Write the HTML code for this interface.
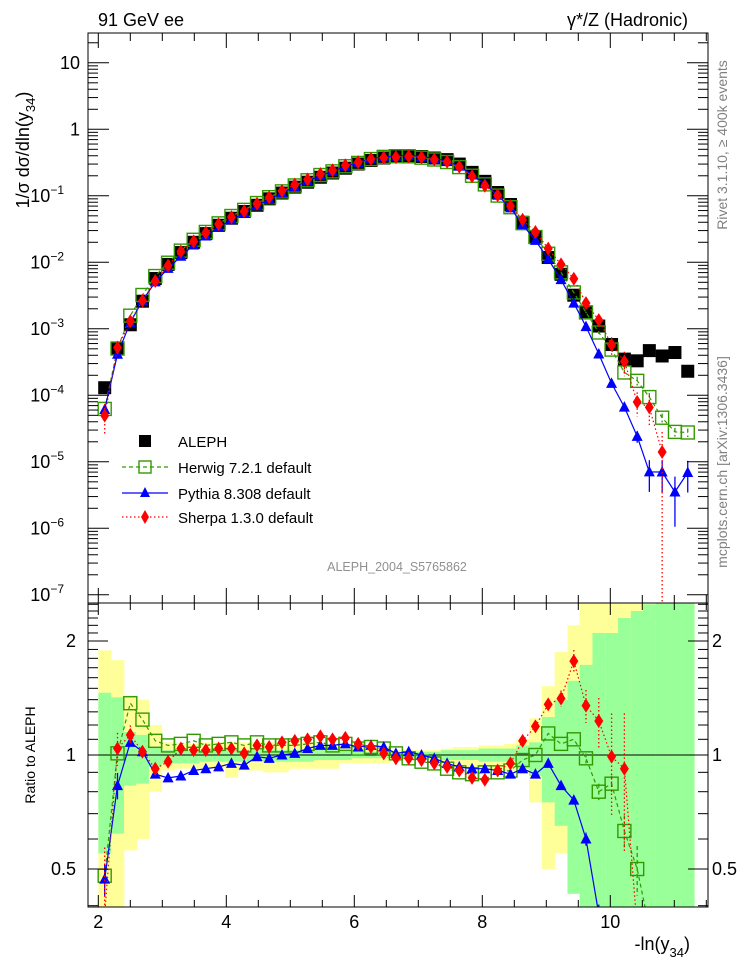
<!DOCTYPE html>
<html><head><meta charset="utf-8"><style>
html,body{margin:0;padding:0;background:#fff;width:746px;height:972px;overflow:hidden;}
svg{display:block;font-family:"Liberation Sans",Arial,sans-serif;}
</style></head><body>
<svg id="chart" width="746" height="972" viewBox="0 0 746 972" xmlns="http://www.w3.org/2000/svg">
<defs>
<clipPath id="clipMain"><rect x="88" y="33" width="620" height="570"/></clipPath>
<clipPath id="clipRatio"><rect x="88" y="603" width="620" height="304"/></clipPath>
</defs>
<g id="ratioBands" clip-path="url(#clipRatio)"></g>
<g id="mainMarks" clip-path="url(#clipMain)"></g>
<g id="ratioMarks" clip-path="url(#clipRatio)"></g>
<g id="axes"></g>

<text x="98" y="26" font-size="18">91 GeV ee</text>
<text x="688" y="26" font-size="18" text-anchor="end">γ*/Z (Hadronic)</text>
<text transform="translate(727,145) rotate(-90)" font-size="14" fill="#808080" text-anchor="middle">Rivet 3.1.10, ≥ 400k events</text>
<text transform="translate(727,462) rotate(-90)" font-size="14" fill="#808080" text-anchor="middle">mcplots.cern.ch [arXiv:1306.3436]</text>
<text x="397" y="571" font-size="12.5" fill="#909090" text-anchor="middle">ALEPH_2004_S5765862</text>
<text transform="translate(29,150) rotate(-90)" font-size="18" text-anchor="middle">1/σ  dσ/dln(y<tspan font-size="13" dy="6">34</tspan><tspan dy="-6">)</tspan></text>
<text transform="translate(35,755) rotate(-90)" font-size="14" text-anchor="middle">Ratio to ALEPH</text>
<text x="690" y="950" font-size="18" text-anchor="end">-ln(y<tspan font-size="13" dy="7">34</tspan><tspan dy="-7">)</tspan></text>

<g>
  <g>
    <rect x="139" y="435" width="12" height="12" fill="#000"/>
    <text x="178" y="447" font-size="15">ALEPH</text>
  </g>
  <g>
    <line x1="122" y1="467" x2="168" y2="467" stroke="#339900" stroke-width="1.3" stroke-dasharray="4,3"/>
    <rect x="139" y="461" width="12" height="12" fill="none" stroke="#339900" stroke-width="1.4"/>
    <text x="178" y="473" font-size="15">Herwig 7.2.1 default</text>
  </g>
  <g>
    <line x1="122" y1="493" x2="168" y2="493" stroke="#0000ff" stroke-width="1.3"/>
    <polygon points="145,487 150,497 140,497" fill="#0000ff"/>
    <text x="178" y="499" font-size="15">Pythia 8.308 default</text>
  </g>
  <g>
    <line x1="122" y1="517" x2="168" y2="517" stroke="#ff0000" stroke-width="1.3" stroke-dasharray="1.5,2.5"/>
    <polygon points="145,510 149,517 145,524 141,517" fill="#ff0000"/>
    <text x="178" y="523" font-size="15">Sherpa 1.3.0 default</text>
  </g>
</g>
</svg>
<script>
// ---- data ----
const binCenters = [2.10,2.30,2.50,2.69,2.89,3.09,3.29,3.49,3.68,3.88,4.08,4.28,4.48,4.67,4.87,5.07,5.27,5.47,5.66,5.86,6.06,6.26,6.46,6.65,6.85,7.05,7.25,7.45,7.64,7.84,8.04,8.24,8.44,8.63,8.83,9.03,9.23,9.43,9.62,9.82,10.02,10.22,10.42,10.61,10.81,11.01,11.21];
const alephValues = [1.3e-4,5e-4,1.15e-3,2.6e-3,5.7e-3,9.3e-3,0.014,0.020,0.027,0.036,0.046,0.058,0.072,0.090,0.110,0.135,0.160,0.190,0.220,0.260,0.300,0.340,0.370,0.390,0.400,0.390,0.370,0.350,0.300,0.225,0.165,0.112,0.074,0.040,0.024,0.0118,6.6e-3,3.2e-3,1.8e-3,1.1e-3,5.8e-4,3.5e-4,3.3e-4,4.7e-4,3.9e-4,4.4e-4,2.3e-4];
const herwigRatio = [0.48,1.01,1.37,1.24,1.09,1.06,1.07,1.09,1.06,1.07,1.08,1.06,1.08,1.06,1.06,1.06,1.07,1.08,1.06,1.07,1.04,1.05,1.04,1.01,0.98,0.96,0.95,0.92,0.90,0.89,0.90,0.90,0.91,0.97,1.00,1.14,1.07,1.10,0.98,0.80,0.84,0.63,0.50,0.20,0.118,0.064,0.12];
const pythiaRatio = [0.47,0.83,1.08,1.02,0.89,0.87,0.88,0.91,0.92,0.93,0.95,0.94,0.99,0.98,1.00,1.01,1.04,1.06,1.06,1.07,1.05,1.06,1.05,1.01,1.02,1.00,0.98,0.95,0.93,0.92,0.92,0.91,0.89,0.92,0.89,0.95,0.83,0.76,0.60,0.38,0.26,0.19,0.073,0.015,0.018,0.008,0.030];
const sherpaRatio = [0.38,1.04,1.13,1.02,0.92,0.96,1.04,1.03,1.03,1.04,1.04,1.01,1.06,1.05,1.08,1.09,1.10,1.12,1.10,1.11,1.07,1.05,1.01,0.98,0.98,0.97,0.95,0.93,0.91,0.87,0.86,0.91,0.95,1.09,1.19,1.36,1.41,1.77,1.35,1.23,0.99,0.92,0.24,0.14,0.036,null,null];
const herwigErr = [0.05,0,0,0,0,0,0,0,0,0,0,0,0,0,0,0,0,0,0,0,0,0,0,0,0,0,0,0,0,0,0,0,0,0,0,0,0,0,0.03,0.05,0.05,0.1,0.15,0.15,0.15,0.15,0.15];
const pythiaErr = [0.1,0.08,0,0,0,0,0,0,0,0,0,0,0,0,0,0,0,0,0,0,0,0,0,0,0,0,0,0,0,0,0,0,0,0,0,0,0,0.02,0.04,0.06,0.1,0.1,0.2,0.5,0.5,0.7,0.5];
const sherpaErr = [0.5,0.1,0.06,0,0,0,0,0,0,0,0,0,0,0,0,0,0,0,0,0,0,0,0,0,0,0,0,0,0,0,0,0,0,0,0,0.02,0.05,0.07,0.1,0.15,0.3,0.4,0.4,0.5,1.0,0,0];
const statHi = [1.46,1.42,1.15,1.13,1.05,1.03,1.03,1.03,1.03,1.03,1.03,1.03,1.03,1.03,1.03,1.03,1.03,1.03,1.03,1.03,1.03,1.02,1.02,1.02,1.02,1.02,1.02,1.03,1.03,1.03,1.04,1.04,1.04,1.06,1.08,1.26,1.40,1.57,1.73,2.10,2.10,2.30,2.40,2.50,2.60,2.60,2.60];
const statLo = [0.55,0.62,0.83,0.84,0.93,0.95,0.95,0.95,0.96,0.96,0.96,0.96,0.96,0.96,0.96,0.96,0.96,0.97,0.97,0.97,0.98,0.98,0.98,0.98,0.98,0.98,0.98,0.97,0.97,0.97,0.96,0.96,0.96,0.92,0.88,0.75,0.65,0.43,0.38,0.38,0.38,0.38,0.38,0.38,0.38,0.38,0.38];
const totHi = [1.89,1.78,1.44,1.40,1.20,1.08,1.07,1.07,1.08,1.08,1.08,1.08,1.08,1.08,1.08,1.08,1.08,1.07,1.07,1.06,1.05,1.04,1.04,1.03,1.03,1.03,1.03,1.04,1.05,1.05,1.06,1.06,1.07,1.10,1.25,1.52,1.87,2.20,2.6,2.6,2.6,2.6,2.6,2.6,2.6,2.6,2.6];
const totLo = [0.38,0.38,0.56,0.60,0.80,0.91,0.92,0.92,0.92,0.92,0.87,0.91,0.91,0.90,0.90,0.92,0.92,0.92,0.92,0.95,0.95,0.95,0.95,0.97,0.97,0.97,0.96,0.95,0.94,0.93,0.92,0.91,0.91,0.89,0.75,0.50,0.55,0.44,0.38,0.38,0.38,0.38,0.38,0.38,0.38,0.38,0.38];
const xTicks = [2,4,6,8,10];
const yDecades = [1,0,-1,-2,-3,-4,-5,-6,-7];
const ratioTicks = [0.5,1,2];
const ratioTickLabels = ['0.5','1','2'];
const binHalf = 0.099;

// ---- scales ----
const NS='http://www.w3.org/2000/svg';
const RMIN=0.35, RMAX=2.6;
const X = v => 98.3 + (v-2)*64;
const Y = v => 129.3 - 66.5*Math.log10(v);
const R = v => 755 - 114*Math.log2(Math.min(Math.max(v,RMIN),RMAX));
function mk(tag, attrs, parent){const e=document.createElementNS(NS,tag);for(const k in attrs)e.setAttribute(k,attrs[k]);parent.appendChild(e);return e;}
const gMain=document.getElementById('mainMarks'), gRat=document.getElementById('ratioMarks'), gBand=document.getElementById('ratioBands'), gAx=document.getElementById('axes');

// bands
binCenters.forEach((x,i)=>{
  const x0=X(x-binHalf), w=X(x+binHalf)-x0;
  const a=mk('rect',{x:x0,y:R(totHi[i]),width:w+0.5,height:R(totLo[i])-R(totHi[i]),fill:'#ffff99'},gBand);
  
  
  const b=mk('rect',{x:x0,y:R(statHi[i]),width:w+0.5,height:R(statLo[i])-R(statHi[i]),fill:'#99ff99'},gBand);
  
  
});
const one=mk('line',{x1:88,x2:708,y1:R(1),y2:R(1),stroke:'#000','stroke-width':1},gRat);



function marker(kind,cx,cy,parent){
  let e;
  if(kind==='sq') e=mk('rect',{x:cx-6.5,y:cy-6.5,width:13,height:13,fill:'#000'},parent);
  else if(kind==='osq') e=mk('rect',{x:cx-6.5,y:cy-6.5,width:13,height:13,fill:'none',stroke:'#339900','stroke-width':1.4},parent);
  else if(kind==='tri') e=mk('polygon',{points:`${cx},${cy-6} ${cx+5.5},${cy+4.5} ${cx-5.5},${cy+4.5}`,fill:'#0000ff'},parent);
  else e=mk('polygon',{points:`${cx},${cy-7} ${cx+4.5},${cy} ${cx},${cy+7} ${cx-4.5},${cy}`,fill:'#ff0000'},parent);
  return e;
}
const series=[
  {name:'herwig',ratio:herwigRatio,err:herwigErr,color:'#339900',dash:'4,3',m:'osq'},
  {name:'pythia',ratio:pythiaRatio,err:pythiaErr,color:'#0000ff',dash:'',m:'tri'},
  {name:'sherpa',ratio:sherpaRatio,err:sherpaErr,color:'#ff0000',dash:'1.5,2.5',m:'dia'}
];
binCenters.forEach((x,i)=>{
  const e=marker('sq',X(x),Y(alephValues[i]),gMain);
  
  
});
series.forEach(s=>{
  const panels=[
    {g:gMain, fy:(i)=>Y(alephValues[i]*s.ratio[i]), fe:(i,f)=>Y(Math.max(alephValues[i]*s.ratio[i]*f,1.2e-7)), vis:(i)=>true, bottom:603},
    {g:gRat, fy:(i)=>R(s.ratio[i]), fe:(i,f)=>R(s.ratio[i]*f), vis:(i)=>s.ratio[i]>=0.38&&s.ratio[i]<=2.55, bottom:907}
  ];
  panels.forEach(P=>{
    let d='';
    binCenters.forEach((x,i)=>{ if(s.ratio[i]==null) return; d+=(d?'L':'M')+X(x).toFixed(1)+','+P.fy(i).toFixed(1); });
    const p=mk('path',{d:d,fill:'none',stroke:s.color,'stroke-width':1.2},P.g);
    if(s.dash) p.setAttribute('stroke-dasharray',s.dash);
    
    
    binCenters.forEach((x,i)=>{
      if(s.ratio[i]==null) return;
      if(s.err[i]>0){
        const eb=mk('line',{x1:X(x),x2:X(x),y1:P.fe(i,1+s.err[i]),y2:s.err[i]>=1?P.bottom:P.fe(i,1-s.err[i]),stroke:s.color,'stroke-width':1.3},P.g);
        if(s.dash) eb.setAttribute('stroke-dasharray',s.dash);
        
        
      }
      if(!P.vis(i)) return;
      const m=marker(s.m,X(x),P.fy(i),P.g);
      
      
    });
  });
});

// ---- axes ----
function ln(x1,y1,x2,y2){return mk('line',{x1,y1,x2,y2,stroke:'#000','stroke-width':1},gAx);}
const fr1=mk('rect',{x:88,y:33,width:620,height:570,fill:'none',stroke:'#000','stroke-width':1},gAx);


const fr2=mk('rect',{x:88,y:603,width:620,height:304,fill:'none',stroke:'#000','stroke-width':1},gAx);


for(let v=2;v<=11.5;v+=0.5){
  const major = xTicks.includes(v), x=X(v);
  ln(x,33,x,33+(major?15:8)); ln(x,603,x,603-(major?15:8));
  ln(x,603,x,603+(major?12:7)); ln(x,907,x,907-(major?12:7));
}
xTicks.forEach(v=>{
  const t=mk('text',{x:X(v),y:928,'font-size':18,'text-anchor':'middle'},gAx);
  t.textContent=String(v);
  
  
});
yDecades.forEach(d=>{
  const y=Y(Math.pow(10,d));
  ln(88,y,109,y); ln(708,y,687,y);
  for(let m=2;m<=9;m++){const yy=Y(m*Math.pow(10,d)); if(yy>33){ln(88,yy,98,yy); ln(708,yy,698,yy);} }
  const t=mk('text',{x:80,y:y+6,'font-size':18,'text-anchor':'end'},gAx);
  
  
  if(d===1) t.textContent='10';
  else if(d===0) t.textContent='1';
  else { t.textContent='10'; const s=document.createElementNS(NS,'tspan'); s.setAttribute('font-size','12'); s.setAttribute('dy','-8'); s.textContent='\u2212'+(-d); t.appendChild(s); t.setAttribute('x',64); }
});
for(let k=4;k<=25;k++){
  const v=k/10;
  const y=R(v); if(y<603||y>907) continue;
  const major = ratioTicks.some(r=>Math.abs(r-v)<1e-6);
  ln(88,y,88+(major?20:10),y); ln(708,y,708-(major?20:10),y);
}
ratioTicks.forEach((v,i)=>{
  ['l','r'].forEach(side=>{
    const t=mk('text',{x:side==='l'?76:712,y:R(v)+6,'font-size':18,'text-anchor':side==='l'?'end':'start'},gAx);
    t.textContent=ratioTickLabels[i];
    
    
  });
});
</script>
</body></html>
